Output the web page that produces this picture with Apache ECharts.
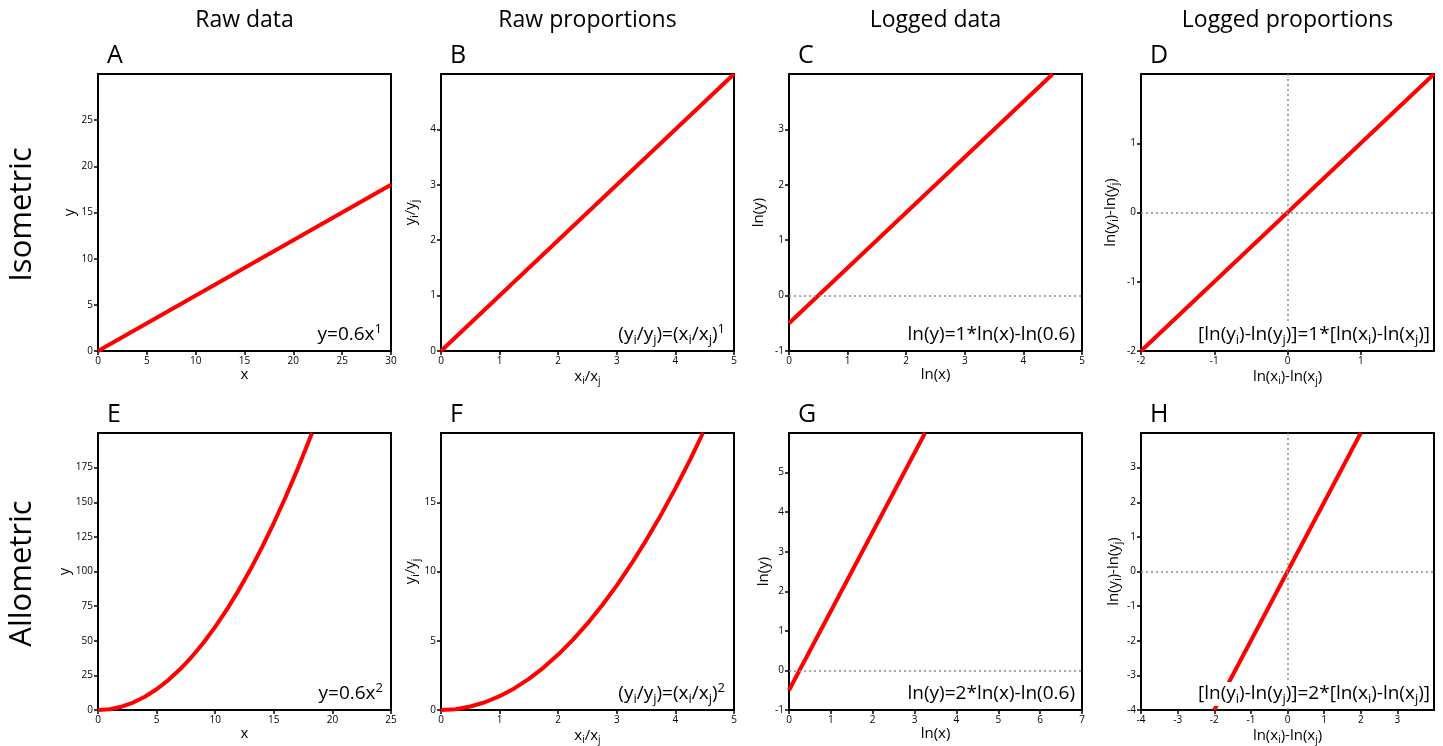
<!DOCTYPE html>
<html><head><meta charset="utf-8">
<script src="https://cdn.jsdelivr.net/npm/echarts@6/dist/echarts.min.js"></script>
<style>html,body{margin:0;padding:0;background:#fff}#c{width:1443px;height:746px}</style>
</head><body><div id="c"></div>
<script>
const FONT = '"Open Sans", "DejaVu Sans", sans-serif';

// ---- text ----
const columnTitles = ['Raw data', 'Raw proportions', 'Logged data', 'Logged proportions'];
const rowTitles = ['Isometric', 'Allometric'];
const panelLetters = ['A', 'B', 'C', 'D', 'E', 'F', 'G', 'H'];
const xNames = ['x', '{n|x}{s|i}{n|/x}{s|j}', 'ln(x)', '{n|ln(x}{s|i}{n|)-ln(x}{s|j}{n|)}',
                'x', '{n|x}{s|i}{n|/x}{s|j}', 'ln(x)', '{n|ln(x}{s|i}{n|)-ln(x}{s|j}{n|)}'];
const yNames = ['y', '{n|y}{s|i}{n|/y}{s|j}', 'ln(y)', '{n|ln(y}{s|i}{n|)-ln(y}{s|j}{n|)}',
                'y', '{n|y}{s|i}{n|/y}{s|j}', 'ln(y)', '{n|ln(y}{s|i}{n|)-ln(y}{s|j}{n|)}'];
const equations = [
  '{n|y=0.6x}{p|1}',
  '{n|(y}{s|i}{n|/y}{s|j}{n|)=(x}{s|i}{n|/x}{s|j}{n|)}{p|1}',
  '{n|ln(y)=1*ln(x)-ln(0.6)}',
  '{n|[ln(y}{s|i}{n|)-ln(y}{s|j}{n|)]=1*[ln(x}{s|i}{n|)-ln(x}{s|j}{n|)]}',
  '{n|y=0.6x}{p|2}',
  '{n|(y}{s|i}{n|/y}{s|j}{n|)=(x}{s|i}{n|/x}{s|j}{n|)}{p|2}',
  '{n|ln(y)=2*ln(x)-ln(0.6)}',
  '{n|[ln(y}{s|i}{n|)-ln(y}{s|j}{n|)]=2*[ln(x}{s|i}{n|)-ln(x}{s|j}{n|)]}'
];

// ---- series values ----
const xA = [0, 30],    yA = [0, 18];
const xB = [0, 5],     yB = [0, 5];
const xC = [0, 4.5],   yC = [-0.5, 4];
const xD = [-2, 2],    yD = [-2, 2];
const xE = [0, 1, 2, 3, 4, 5, 6, 7, 8, 9, 10, 11, 12, 13, 14, 15, 16, 17, 18, 18.25];
const yE = [0, 0.6, 2.4, 5.4, 9.6, 15, 21.6, 29.4, 38.4, 48.6, 60, 72.6, 86.4, 101.4, 117.6, 135, 153.6, 173.4, 194.4, 199.8];
const xF = [0, 0.25, 0.5, 0.75, 1, 1.25, 1.5, 1.75, 2, 2.25, 2.5, 2.75, 3, 3.25, 3.5, 3.75, 4, 4.25, 4.47];
const yF = [0, 0.06, 0.25, 0.56, 1, 1.56, 2.25, 3.06, 4, 5.06, 6.25, 7.56, 9, 10.56, 12.25, 14.06, 16, 18.06, 20];
const xG = [0, 3.25],  yG = [-0.5, 6];
const xH = [-2, 2],    yH = [-4, 4];
const seriesX = [xA, xB, xC, xD, xE, xF, xG, xH];
const seriesY = [yA, yB, yC, yD, yE, yF, yG, yH];

// ---- axis scales / tick labels ----
const xMin  = [0, 0, 0, -2, 0, 0, 0, -4];
const xMax  = [30, 5, 5, 2, 25, 5, 7, 4];
const xStep = [5, 1, 1, 1, 5, 1, 1, 1];
const xShowMax = [true, true, true, false, true, true, true, false];
const yMin  = [0, 0, -1, -2, 0, 0, -1, -4];
const yMax  = [30, 5, 4, 2, 200, 20, 6, 4];
const yStep = [5, 1, 1, 1, 25, 5, 1, 1];
const zeroLinesH = [false, false, true, true, false, false, true, true];
const zeroLinesV = [false, false, false, true, false, false, false, true];

// ---- layout ----
const gridLeft = [98, 441, 789, 1141];
const gridTop = [74, 433];
const GW = 293, GH = 277;
const yNameGap = [19, 21, 23, 21, 25, 20, 18, 17];
const eqRight = [9, 9, 7, 4, 8, 9, 7, 4];

const nameRich = {
  n: { fontSize: 15, fontFamily: FONT, color: '#000', lineHeight: 19, verticalAlign: 'middle' },
  s: { fontSize: 10, fontFamily: FONT, color: '#000', lineHeight: 8, verticalAlign: 'bottom' }
};
const eqRich = {
  n: { fontSize: 19, fontFamily: FONT, fill: '#000', lineHeight: 24, verticalAlign: 'middle' },
  s: { fontSize: 13, fontFamily: FONT, fill: '#000', lineHeight: 10, verticalAlign: 'bottom' },
  p: { fontSize: 13, fontFamily: FONT, fill: '#000', lineHeight: 10, verticalAlign: 'top' }
};

const grids = [], xAxes = [], yAxes = [], series = [], graphics = [];
for (let i = 0; i < 8; i++) {
  const col = i % 4, row = Math.floor(i / 4);
  const L = gridLeft[col], T = gridTop[row];
  grids.push({ left: L, top: T, width: GW, height: GH, show: true,
    borderColor: '#000', borderWidth: 2, outerBoundsMode: 'none', containLabel: false });
  xAxes.push({
    type: 'value', gridIndex: i, min: xMin[i], max: xMax[i], interval: xStep[i],
    name: xNames[i], nameLocation: 'middle', nameGap: 16,
    nameTextStyle: { fontSize: 15, fontFamily: FONT, color: '#000', rich: nameRich },
    axisLine: { onZero: false, lineStyle: { color: '#000', width: 2 } },
    axisTick: { show: true, length: 4, lineStyle: { color: '#000', width: 1.5 } },
    axisLabel: { fontSize: 10, fontFamily: FONT, color: '#000', margin: 5, showMaxLabel: xShowMax[i], showMinLabel: true },
    splitLine: { show: false }
  });
  yAxes.push({
    type: 'value', gridIndex: i, min: yMin[i], max: yMax[i], interval: yStep[i],
    name: yNames[i], nameLocation: 'middle', nameGap: yNameGap[i], nameRotate: 90,
    nameTextStyle: { fontSize: 15, fontFamily: FONT, color: '#000', rich: nameRich },
    axisLine: { onZero: false, lineStyle: { color: '#000', width: 2 } },
    axisTick: { show: true, length: 4, lineStyle: { color: '#000', width: 1.5 } },
    axisLabel: { fontSize: 10, fontFamily: FONT, color: '#000', margin: 5, showMaxLabel: false, showMinLabel: true },
    splitLine: { show: false }
  });
  const mlData = [];
  if (zeroLinesH[i]) mlData.push({ yAxis: 0 });
  if (zeroLinesV[i]) mlData.push({ xAxis: 0 });
  series.push({
    type: 'line', xAxisIndex: i, yAxisIndex: i,
    data: seriesX[i].map((x, k) => [x, seriesY[i][k]]),
    showSymbol: false, symbol: 'none', smooth: false,
    lineStyle: { color: '#ff0000', width: 4, join: 'round' },
    z: 3,
    markLine: mlData.length ? {
      silent: true, symbol: 'none', label: { show: false }, animation: false,
      lineStyle: { color: '#8a8a8a', type: [2, 3], width: 1.5 },
      data: mlData
    } : undefined
  });
  graphics.push({ type: 'text', x: L + 9, y: T - 18, z: 10,
    style: { text: panelLetters[i], fontSize: 25, fontFamily: FONT, fill: '#000', align: 'left', verticalAlign: 'middle' } });
  graphics.push({ type: 'text', x: L + GW - eqRight[i], y: T + GH - 16, z: 10,
    style: { text: equations[i], rich: eqRich, fontSize: 19, fontFamily: FONT, fill: '#000',
      align: 'right', verticalAlign: 'middle', backgroundColor: '#fff' } });
}
columnTitles.forEach((t, c) => {
  graphics.push({ type: 'text', x: gridLeft[c] + GW / 2, y: 20,
    style: { text: t, fontSize: 23, fontFamily: FONT, fill: '#000', align: 'center', verticalAlign: 'middle' } });
});
rowTitles.forEach((t, r) => {
  graphics.push({ type: 'text', x: 22, y: gridTop[r] + GH / 2 + 2, rotation: Math.PI / 2,
    style: { text: t, fontSize: 31, fontFamily: FONT, fill: '#000', align: 'center', verticalAlign: 'middle' } });
});

const chart = echarts.init(document.getElementById('c'), null, { renderer: 'canvas' });
chart.setOption({
  backgroundColor: '#fff',
  animation: false,
  grid: grids, xAxis: xAxes, yAxis: yAxes, series: series,
  graphic: { elements: graphics }
});
</script></body></html>
